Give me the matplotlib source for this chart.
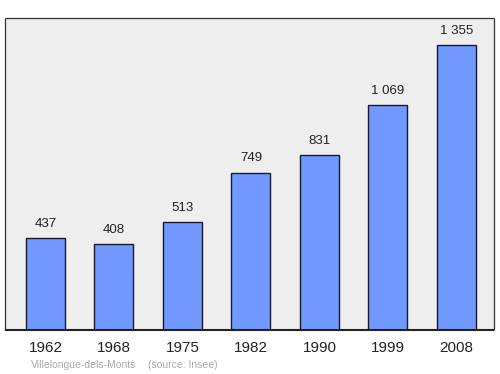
import matplotlib
matplotlib.use("Agg")
import matplotlib.pyplot as plt

plt.rcParams["font.family"] = ["Liberation Sans", "DejaVu Sans"]

years = ["1962", "1968", "1975", "1982", "1990", "1999", "2008"]
population = [437, 408, 513, 749, 831, 1069, 1355]
value_labels = ["437", "408", "513", "749", "831", "1 069", "1 355"]

fig = plt.figure(figsize=(5, 3.74), dpi=100)
ax = fig.add_axes([0.01, 44 / 374, 0.978, 312 / 374])
ax.set_facecolor("#eeeeee")

x = list(range(len(years)))
ax.bar(x, population, width=0.57, color="#7299ff", edgecolor="#1a1a2e", linewidth=1)

for xi, v, lab in zip(x, population, value_labels):
    ax.annotate(lab, (xi, v), xytext=(0, 6), textcoords="offset points",
                ha="center", va="bottom", fontsize=9.5, color="#222222")

ax.set_xlim(-0.591, 6.55)
ax.set_ylim(0, 1484)
ax.set_yticks([])
ax.set_xticks(x)
ax.set_xticklabels(years, fontsize=11, color="#222222")
ax.tick_params(axis="x", length=0, pad=8)
for side in ["top", "right", "left"]:
    ax.spines[side].set_color("#333333")
    ax.spines[side].set_linewidth(0.9)
ax.spines["bottom"].set_color("#222222")
ax.spines["bottom"].set_linewidth(1.5)
for sp in ax.spines.values():
    sp.set_capstyle("butt")

fig.text(31 / 500, 1 - 365 / 374, "Villelongue-dels-Monts", fontsize=7.5, color="#aaaaaa",
         ha="left", va="center")
fig.text(148 / 500, 1 - 365 / 374, "(source: Insee)", fontsize=7.5, color="#aaaaaa",
         ha="left", va="center")

fig.savefig("out.png", dpi=100)
